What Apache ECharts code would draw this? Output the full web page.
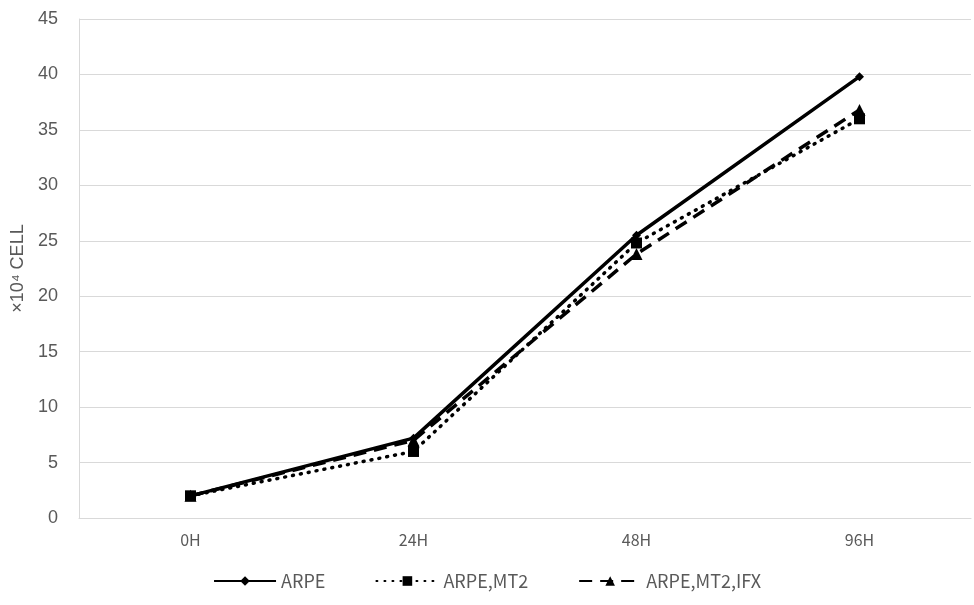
<!DOCTYPE html>
<html>
<head>
<meta charset="utf-8">
<script src="https://cdn.jsdelivr.net/npm/echarts@6/dist/echarts.min.js"></script>
<style>
  html, body { margin: 0; padding: 0; background: #fff; }
  #chart { width: 974px; height: 605px; }
</style>
</head>
<body>
<div id="chart"></div>
<script>
// 时间点
const categories = ["0H", "24H", "48H", "96H"];
// 各组细胞数 (×10^4)
const arpe = [2.0, 7.2, 25.5, 39.8];
const arpeMt2 = [2.0, 6.0, 24.8, 36.0];
const arpeMt2Ifx = [2.0, 7.0, 23.8, 36.8];
const seriesNames = ["ARPE", "ARPE,MT2", "ARPE,MT2,IFX"];

const chart = echarts.init(document.getElementById("chart"));
const option = {
  animation: false,
  grid: { left: 79, right: 3, top: 19, bottom: 87, outerBoundsMode: "none" },
  legend: {
    bottom: 10,
    left: "center",
    itemWidth: 62,
    itemHeight: 12,
    itemGap: 50,
    textStyle: { color: "#595959", fontSize: 18, fontFamily: "Noto Sans CJK JP" },
    data: seriesNames
  },
  xAxis: {
    type: "category",
    data: categories,
    boundaryGap: true,
    axisLine: { lineStyle: { color: "#d9d9d9", width: 1 } },
    axisTick: { show: false },
    axisLabel: { color: "#595959", fontSize: 16, margin: 14, fontFamily: "Noto Sans CJK JP" }
  },
  yAxis: {
    type: "value",
    min: 0,
    max: 45,
    interval: 5,
    name: "×10⁴ CELL",
    nameLocation: "middle",
    nameGap: 52,
    nameTextStyle: { color: "#595959", fontSize: 18, fontFamily: "Liberation Sans" },
    axisLine: { show: true, lineStyle: { color: "#d9d9d9" } },
    axisTick: { show: false },
    axisLabel: { color: "#595959", fontSize: 18, margin: 21, fontFamily: "Liberation Sans" },
    splitLine: { lineStyle: { color: "#d9d9d9", width: 1 } }
  },
  series: [
    {
      name: seriesNames[0],
      type: "line",
      data: arpe,
      symbol: "diamond",
      symbolSize: 9,
      itemStyle: { color: "#000" },
      lineStyle: { color: "#000", width: 3.5 },
      z: 3
    },
    {
      name: seriesNames[1],
      type: "line",
      data: arpeMt2,
      symbol: "rect",
      symbolSize: 11,
      itemStyle: { color: "#000" },
      lineStyle: { color: "#000", width: 3.5, type: [1, 7], cap: "round" },
      z: 2
    },
    {
      name: seriesNames[2],
      type: "line",
      data: arpeMt2Ifx,
      symbol: "triangle",
      symbolSize: 12,
      itemStyle: { color: "#000" },
      lineStyle: { color: "#000", width: 3.5, type: [13, 8] },
      z: 1
    }
  ]
};
chart.setOption(option);
</script>
</body>
</html>
